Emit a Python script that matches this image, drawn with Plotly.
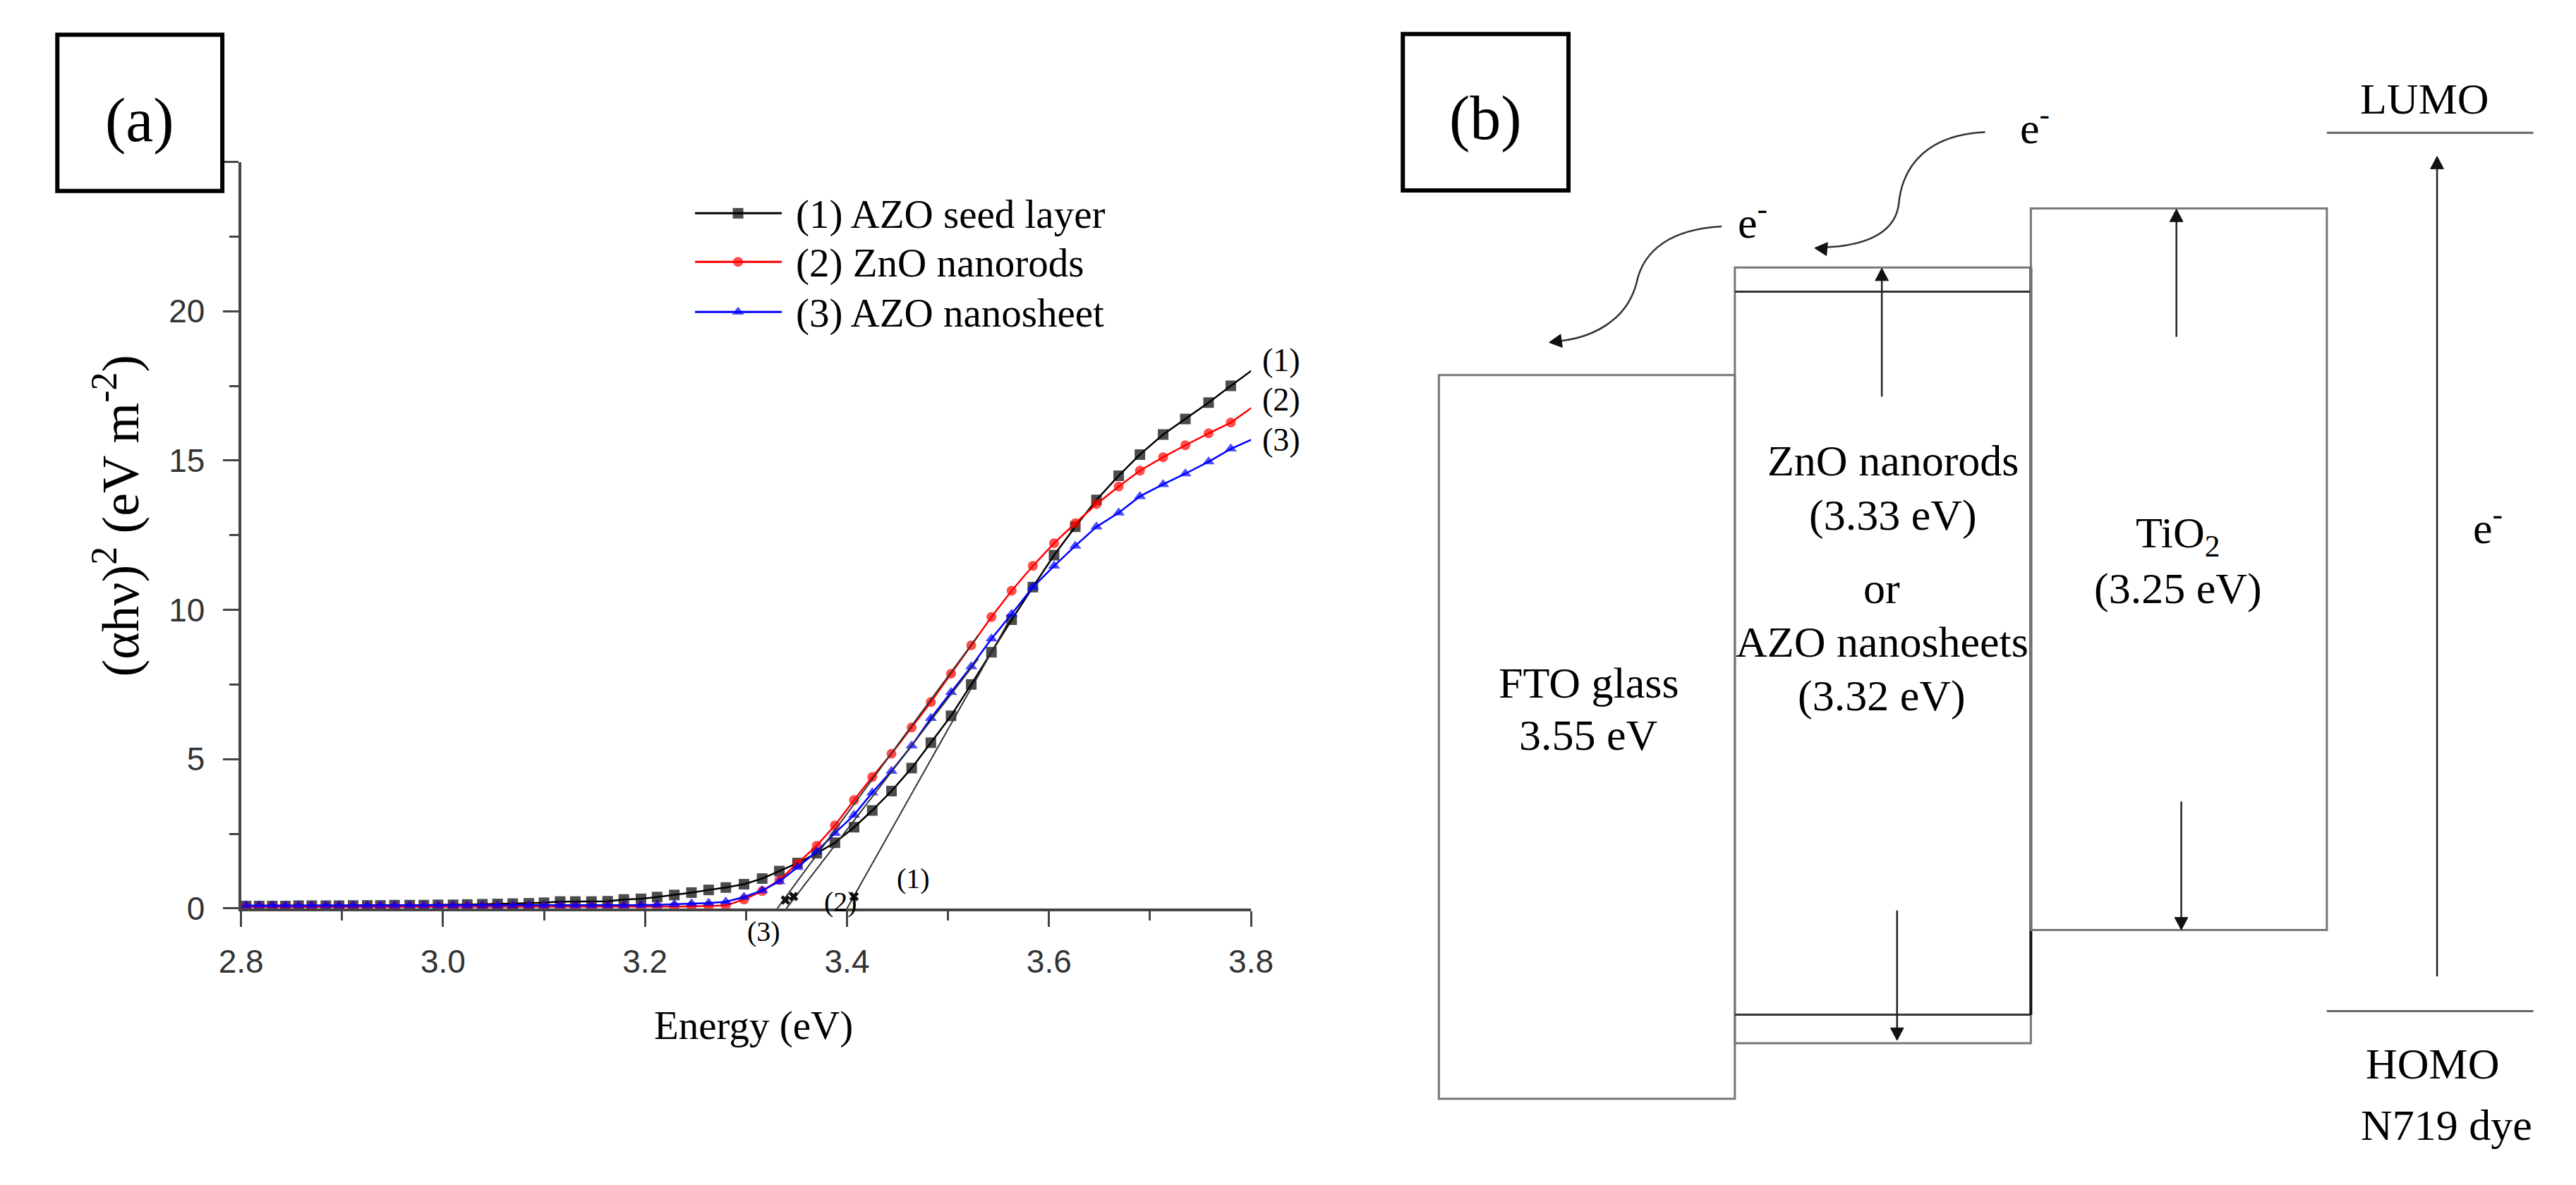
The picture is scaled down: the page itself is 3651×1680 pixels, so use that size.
import math
import plotly.graph_objects as go

W, H = 3651, 1680

# ---------------- data (panel a) ----------------
energy = [2.805, 2.818, 2.831, 2.844, 2.857, 2.870, 2.884, 2.897, 2.911, 2.925,
          2.938, 2.952, 2.967, 2.981, 2.995, 3.010, 3.024, 3.039, 3.054, 3.069,
          3.085, 3.100, 3.116, 3.131, 3.147, 3.163, 3.179, 3.196, 3.212, 3.229,
          3.246, 3.263, 3.280, 3.298, 3.316, 3.333, 3.351, 3.370, 3.388, 3.407,
          3.425, 3.444, 3.464, 3.483, 3.503, 3.523, 3.543, 3.563, 3.584, 3.605,
          3.626, 3.647, 3.669, 3.690, 3.713, 3.735, 3.758, 3.780, 3.804]

azo_seed = [0.08, 0.08, 0.08, 0.08, 0.09, 0.09, 0.09, 0.09, 0.10, 0.10,
            0.10, 0.11, 0.11, 0.11, 0.12, 0.12, 0.13, 0.14, 0.15, 0.16,
            0.17, 0.19, 0.23, 0.23, 0.23, 0.24, 0.30, 0.32, 0.38, 0.45,
            0.53, 0.62, 0.70, 0.81, 1.00, 1.25, 1.52, 1.85, 2.20, 2.72,
            3.28, 3.93, 4.70, 5.55, 6.45, 7.50, 8.58, 9.67, 10.76, 11.83,
            12.78, 13.68, 14.49, 15.20, 15.87, 16.39, 16.94, 17.50, 18.10]

zno_rods = [0.05, 0.05, 0.05, 0.05, 0.05, 0.05, 0.05, 0.05, 0.05, 0.05,
            0.05, 0.05, 0.05, 0.05, 0.05, 0.05, 0.05, 0.05, 0.05, 0.05,
            0.05, 0.05, 0.05, 0.05, 0.05, 0.05, 0.05, 0.05, 0.06, 0.06,
            0.07, 0.08, 0.10, 0.30, 0.58, 0.95, 1.50, 2.10, 2.78, 3.63,
            4.40, 5.18, 6.06, 6.91, 7.86, 8.81, 9.76, 10.64, 11.47, 12.23,
            12.90, 13.54, 14.13, 14.66, 15.11, 15.51, 15.91, 16.27, 16.85]

azo_sheet = [0.10, 0.10, 0.10, 0.10, 0.10, 0.10, 0.10, 0.10, 0.10, 0.10,
             0.10, 0.10, 0.10, 0.10, 0.10, 0.10, 0.10, 0.10, 0.10, 0.10,
             0.10, 0.10, 0.10, 0.10, 0.10, 0.10, 0.10, 0.11, 0.12, 0.14,
             0.16, 0.18, 0.22, 0.38, 0.60, 0.90, 1.38, 1.90, 2.52, 3.13,
             3.88, 4.60, 5.45, 6.37, 7.24, 8.10, 9.03, 9.86, 10.76, 11.47,
             12.14, 12.78, 13.25, 13.80, 14.20, 14.56, 14.96, 15.39, 15.75]

series_names = ["(1) AZO seed layer", "(2) ZnO nanorods", "(3) AZO nanosheet"]

# linear extrapolations (tangent lines) to the energy axis
fit1_x = [3.400, 3.560]
fit1_y = [0.0, 9.60]
fit2_x = [3.331, 3.530]
fit2_y = [0.0, 9.15]
fit3_x = [3.340, 3.530]
fit3_y = [0.0, 8.36]
fit_mark_x = [3.339, 3.347, 3.407]
fit_mark_y = [0.28, 0.40, 0.40]

x_ticks = [2.8, 3.0, 3.2, 3.4, 3.6, 3.8]
x_ticklabels = ["2.8", "3.0", "3.2", "3.4", "3.6", "3.8"]
x_minor = [2.9, 3.1, 3.3, 3.5, 3.7]
y_ticks = [0, 5, 10, 15, 20, 25]
y_ticklabels = ["0", "5", "10", "15", "20", ""]
y_minor = [2.5, 7.5, 12.5, 17.5, 22.5]

# ---------------- styling ----------------
SERIF = "Liberation Serif"
SANS = "Liberation Sans"
AX = "#444444"
colors = ["#000000", "#ff0000", "#0000ff"]
symbols = ["square", "circle", "triangle-up"]
msizes = [15, 14, 15]

fig = go.Figure()

ys = [azo_seed, zno_rods, azo_sheet]
for name, y, c, s, ms in zip(series_names, ys, colors, symbols, msizes):
    sizes = [ms] * (len(energy) - 1) + [0]
    fig.add_trace(go.Scatter(
        x=energy, y=y, mode="lines+markers", name=name,
        line=dict(color=c, width=2.5),
        marker=dict(symbol=s, size=sizes, color=c, line=dict(width=0)),
        xaxis="x", yaxis="y", showlegend=False))

for fx, fy in [(fit1_x, fit1_y), (fit2_x, fit2_y), (fit3_x, fit3_y)]:
    fig.add_trace(go.Scatter(x=fx, y=fy, mode="lines",
                             line=dict(color="#333333", width=2),
                             xaxis="x", yaxis="y", showlegend=False))
fig.add_trace(go.Scatter(x=fit_mark_x, y=fit_mark_y, mode="markers",
                         marker=dict(symbol="x", size=12, color="#111111", line=dict(width=0)),
                         xaxis="x", yaxis="y", showlegend=False))

# ---------------- custom legend (pixel space) ----------------
leg_rows = [299, 369, 441]
for name, c, s, ms, ry in zip(series_names, colors, symbols, msizes, leg_rows):
    fig.add_trace(go.Scatter(x=[962, 1024, 1087], y=[ry, ry, ry], mode="lines+markers",
                             line=dict(color=c, width=3),
                             marker=dict(symbol=s, size=[0, ms, 0], color=c, line=dict(width=0)),
                             xaxis="x2", yaxis="y2", showlegend=False, hoverinfo="skip"))

# ---------------- layout ----------------
x0px, x1px = 307, 1764
y0px, y1px = 1300, 225
fig.update_layout(
    width=W, height=H,
    margin=dict(l=0, r=0, t=0, b=0),
    paper_bgcolor="white", plot_bgcolor="rgba(0,0,0,0)",
    showlegend=False,
    xaxis=dict(domain=[x0px / W, x1px / W], range=[2.8, 3.8], anchor="y",
               showline=True, linecolor=AX, linewidth=4, mirror=False,
               showgrid=False, zeroline=False,
               ticks="outside", ticklen=22, tickwidth=3, tickcolor=AX,
               tickmode="array", tickvals=x_ticks, ticktext=x_ticklabels,
               ticklabelstandoff=10,
               minor=dict(tickmode="array", tickvals=x_minor, ticks="outside",
                          ticklen=13, tickwidth=3, tickcolor=AX),
               tickfont=dict(family=SANS, size=46, color="#333333")),
    yaxis=dict(domain=[(H - y0px) / H, (H - y1px) / H], range=[0, 25], anchor="x",
               showline=True, linecolor=AX, linewidth=4, mirror=False,
               showgrid=False, zeroline=False,
               ticks="outside", ticklen=22, tickwidth=3, tickcolor=AX,
               tickmode="array", tickvals=y_ticks, ticktext=y_ticklabels,
               ticklabelstandoff=16,
               minor=dict(tickmode="array", tickvals=y_minor, ticks="outside",
                          ticklen=13, tickwidth=3, tickcolor=AX),
               tickfont=dict(family=SANS, size=46, color="#333333")),
    xaxis2=dict(domain=[0, 1], range=[0, W], anchor="y2", visible=False, fixedrange=True),
    yaxis2=dict(domain=[0, 1], range=[H, 0], anchor="x2", visible=False, fixedrange=True),
)

shapes = []
annotations = []


def txt(x, y, s, size=62, xanchor="center", yanchor="middle", angle=0, family=SERIF, color="#000000"):
    annotations.append(dict(x=x, y=y, xref="x2", yref="y2", text=s, showarrow=False,
                            xanchor=xanchor, yanchor=yanchor, textangle=angle,
                            font=dict(family=family, size=size, color=color)))


def rect(x0, y0, x1, y1, w=3, color="#777777"):
    shapes.append(dict(type="rect", xref="x2", yref="y2", x0=x0, y0=y0, x1=x1, y1=y1,
                       line=dict(color=color, width=w), fillcolor="rgba(0,0,0,0)", layer="above"))


def seg(x0, y0, x1, y1, w=3, color="#777777"):
    shapes.append(dict(type="line", xref="x2", yref="y2", x0=x0, y0=y0, x1=x1, y1=y1,
                       line=dict(color=color, width=w)))


def head(xt, yt, dx, dy, length=18, half=9.5, color="#111111"):
    n = math.hypot(dx, dy)
    ux, uy = dx / n, dy / n
    bx, by = xt - ux * length, yt - uy * length
    px_, py_ = -uy * half, ux * half
    path = "M {:.1f},{:.1f} L {:.1f},{:.1f} L {:.1f},{:.1f} Z".format(
        xt, yt, bx + px_, by + py_, bx - px_, by - py_)
    shapes.append(dict(type="path", xref="x2", yref="y2", path=path,
                       fillcolor=color, line=dict(color=color, width=1)))


def arrow(xt, yt, xs, ys_, w=2.5):
    dx, dy = xt - xs, yt - ys_
    n = math.hypot(dx, dy)
    seg(xs, ys_, xt - dx / n * 10, yt - dy / n * 10, w=w, color="#222222")
    head(xt, yt, dx, dy)


# panel labels
rect(42, 42, 280, 267, w=6, color="#000000")
txt(161, 165, "(a)", size=88)
rect(1983, 41, 2222, 266, w=6, color="#000000")
txt(2102, 162, "(b)", size=88)

# axis titles of (a)
txt(1046, 1469, "Energy (eV)", size=57)
txt(128, 735, "(αhν)<sup>2</sup> (eV m<sup>-2</sup>)", size=74, angle=-90)

# legend text
for name, ry in zip(series_names, leg_rows):
    txt(1105, ry + 2, name, size=57, xanchor="left")

# curve labels
for lab, yv in zip(["(1)", "(2)", "(3)"], [18.37, 17.05, 15.7]):
    annotations.append(dict(x=3.8, y=yv, xref="x", yref="y", text=lab, showarrow=False,
                            xanchor="left", yanchor="middle", xshift=14,
                            font=dict(family=SERIF, size=46, color="#000000")))
for lab, xv, yv in [("(1)", 3.466, 1.0), ("(2)", 3.394, 0.23)]:
    annotations.append(dict(x=xv, y=yv, xref="x", yref="y", text=lab, showarrow=False,
                            xanchor="center", yanchor="middle",
                            font=dict(family=SERIF, size=40, color="#000000")))
txt(1061, 1333, "(3)", size=40)

# ---------------- panel (b): band diagram ----------------
rect(2035, 532, 2462, 1574)                          # FTO
rect(2462, 377, 2889, 1494)                          # AZO nanosheets
seg(2462, 412, 2889, 412, w=3, color="#333333")      # ZnO nanorods band edges
seg(2462, 1453, 2889, 1453, w=3, color="#333333")
seg(2889, 377, 2889, 1453, w=4, color="#111111")
rect(2889, 292, 3316, 1331)                          # TiO2
seg(3316, 183, 3614, 183, w=3, color="#666666")      # LUMO
seg(3316, 1448, 3614, 1448, w=3, color="#666666")    # HOMO

txt(3457, 134, "LUMO")
txt(3468, 1524, "HOMO")
txt(3489, 1612, "N719 dye")
txt(3548, 748, "e<sup>-</sup>")

txt(2251, 975, "FTO glass")
txt(2251, 1050, "3.55 eV")
txt(2690, 655, "ZnO nanorods")
txt(2690, 734, "(3.33 eV)")
txt(2674, 839, "or")
txt(2674, 916, "AZO nanosheets")
txt(2674, 994, "(3.32 eV)")
txt(3101, 763, "TiO<sub>2</sub>")
txt(3101, 839, "(3.25 eV)")

# straight arrows
arrow(3475, 217, 3475, 1398)
arrow(2674, 378, 2674, 563)
arrow(2696, 1490, 2696, 1303)
arrow(3099, 293, 3099, 477)
arrow(3106, 1331, 3106, 1146)

# curved electron-injection arrows
shapes.append(dict(type="path", xref="x2", yref="y2",
                   path="M 2823,182 C 2745,186 2703,225 2698,289 C 2690,333 2640,346 2592,348",
                   line=dict(color="#333333", width=2.5)))
head(2577, 349, 2600 - 2577 and -23, -2)
shapes.append(dict(type="path", xref="x2", yref="y2",
                   path="M 2443,318 C 2372,322 2330,350 2320,400 C 2305,455 2255,478 2209,483",
                   line=dict(color="#333333", width=2.5)))
head(2194, 485, -22, 3)
txt(2895, 172, "e<sup>-</sup>")
txt(2488, 308, "e<sup>-</sup>")

fig.update_layout(shapes=shapes, annotations=annotations)
fig.write_html("out.html")
